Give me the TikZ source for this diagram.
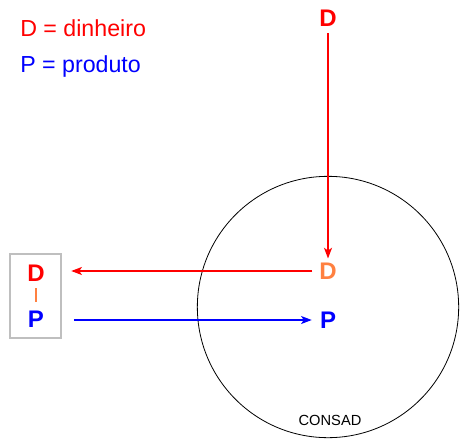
\documentclass[tikz,border=0pt]{standalone}
\usepackage{fontspec}
\setmainfont{Liberation Sans}
\usetikzlibrary{positioning,arrows.meta}
\definecolor{dred}{RGB}{255,0,0}
\definecolor{dblue}{RGB}{0,0,255}
\definecolor{dorange}{RGB}{255,128,64}
\tikzset{
  lbl/.style={font=\fontsize{18}{20}\selectfont\bfseries, inner sep=1pt},
  legend/.style={font=\fontsize{17.4}{20}\selectfont, anchor=west, inner sep=0pt},
  flow/.style={line width=1.1pt, -{Stealth[length=8pt,width=6pt,inset=2pt]}}
}
\begin{document}
\begin{tikzpicture}[x=0.75pt, y=-0.75pt]
    \useasboundingbox (0,0) rectangle (463,439);

    % legenda
    \node[legend, text=dred] (legd) at (20,28) {D = dinheiro};
    \node[legend, text=dblue] (legp) at (20,66) {P = produto};

    % circulo
    \node[circle, draw, line width=0.6pt, minimum size=196pt, inner sep=0pt] (consad) at (328,307) {};
    \node[font=\fontsize{11}{13}\selectfont, inner sep=0pt] (lab) at (330,420) {CONSAD};

    \node[lbl, text=dred] (dtop) at (328,18) {D};
    \node[lbl, text=dorange] (din) at (328,271) {D};
    \node[lbl, text=dblue] (pin) at (328,320) {P};

    % caixa
    \node[draw=black!25, line width=1.6pt, minimum width=38pt, minimum height=63pt] (box) at (35.5,296) {};
    \node[lbl, text=dred] (dout) at (36,273) {D};
    \node[lbl, text=dblue] (pout) at (36,319) {P};
    \draw[dorange, line width=1.2pt, shorten <=4pt, shorten >=5pt] (dout) -- (pout);

    \draw[flow, dred, shorten <=4pt, shorten >=2pt] (dtop) -- (din);
    \draw[flow, dred, shorten <=4pt, shorten >=7pt] (din.west) -- (din.west -| box.east);
    \draw[flow, dblue, shorten <=9pt, shorten >=5pt] (pin.west -| box.east) -- (pin.west);
\end{tikzpicture}
\end{document}
